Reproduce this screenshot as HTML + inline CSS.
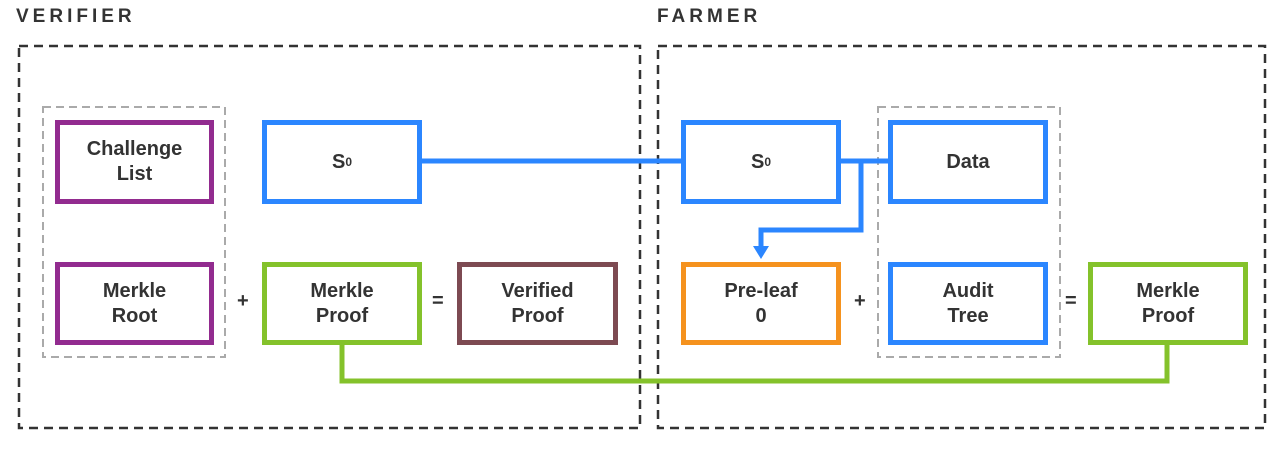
<!DOCTYPE html>
<html><head><style>
body{margin:0;width:1280px;height:450px;background:#fff;position:relative;overflow:hidden;font-family:"Liberation Sans",sans-serif;}
.t{position:absolute;font-weight:bold;font-size:19px;letter-spacing:4px;color:#333;}
.b{position:absolute;box-sizing:border-box;border:5px solid;display:flex;align-items:center;justify-content:center;text-align:center;font-weight:bold;font-size:20px;line-height:25px;color:#333;background:#fff;}
.s{position:absolute;font-weight:bold;font-size:20px;color:#333;}
</style></head><body>
<div class="t" style="left:16px;top:6px">VERIFIER</div>
<div class="t" style="left:657px;top:6px">FARMER</div>
<svg width="1280" height="450" style="position:absolute;left:0;top:0">
<rect x="19" y="46" width="621" height="382" fill="none" stroke="#333" stroke-width="2.5" stroke-dasharray="9,6"/>
<rect x="658" y="46" width="607" height="382" fill="none" stroke="#333" stroke-width="2.5" stroke-dasharray="9,6"/>
<rect x="43" y="107" width="182" height="250" fill="none" stroke="#aaa" stroke-width="2" stroke-dasharray="8,5"/>
<rect x="878" y="107" width="182" height="250" fill="none" stroke="#aaa" stroke-width="2" stroke-dasharray="8,5"/>
<line x1="420" y1="161" x2="682" y2="161" stroke="#2b86ff" stroke-width="5"/>
<line x1="839" y1="161" x2="889" y2="161" stroke="#2b86ff" stroke-width="5"/>
<polyline points="861,161 861,230 761,230 761,248" fill="none" stroke="#2b86ff" stroke-width="5"/>
<polygon points="753,246 769,246 761,259" fill="#2b86ff"/>
<polyline points="342,343 342,381 1167,381 1167,343" fill="none" stroke="#84c22b" stroke-width="5"/>
</svg>
<div class="b" style="left:55px;top:120px;width:159px;height:84px;border-color:#922b8f">Challenge<br>List</div>
<div class="b" style="left:262px;top:120px;width:160px;height:84px;border-color:#2b86ff">S<sub style="font-size:12px">0</sub></div>
<div class="b" style="left:55px;top:262px;width:159px;height:83px;border-color:#922b8f">Merkle<br>Root</div>
<div class="b" style="left:262px;top:262px;width:160px;height:83px;border-color:#84c22b">Merkle<br>Proof</div>
<div class="b" style="left:457px;top:262px;width:161px;height:83px;border-color:#7d4a52">Verified<br>Proof</div>
<div class="b" style="left:681px;top:120px;width:160px;height:84px;border-color:#2b86ff">S<sub style="font-size:12px">0</sub></div>
<div class="b" style="left:888px;top:120px;width:160px;height:84px;border-color:#2b86ff">Data</div>
<div class="b" style="left:681px;top:262px;width:160px;height:83px;border-color:#f5921e">Pre-leaf<br>0</div>
<div class="b" style="left:888px;top:262px;width:160px;height:83px;border-color:#2b86ff">Audit<br>Tree</div>
<div class="b" style="left:1088px;top:262px;width:160px;height:83px;border-color:#84c22b">Merkle<br>Proof</div>
<div class="s" style="left:237px;top:290px">+</div>
<div class="s" style="left:432px;top:290px">=</div>
<div class="s" style="left:854px;top:290px">+</div>
<div class="s" style="left:1065px;top:290px">=</div>
</body></html>
